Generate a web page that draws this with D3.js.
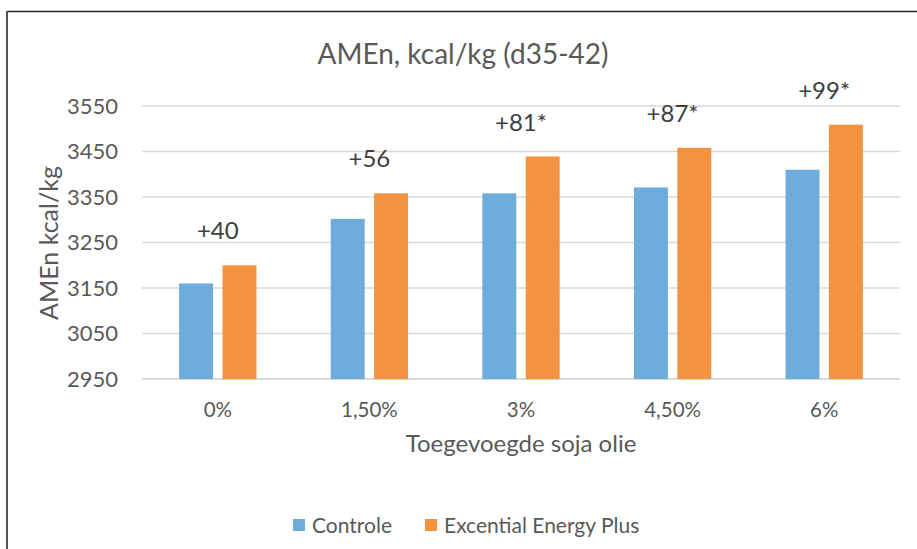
<!DOCTYPE html>
<html>
<head>
<meta charset="utf-8">
<script src="https://cdn.jsdelivr.net/npm/d3@7"></script>
<style>
  html, body { margin: 0; padding: 0; background: #fff; }
  svg { display: block; font-family: Lato, "Open Sans", sans-serif; }
</style>
</head>
<body>
<svg id="chart" width="917" height="549"></svg>
<script>
const categories = ["0%", "1,50%", "3%", "4,50%", "6%"];
const seriesNames = ["Controle", "Excential Energy Plus"];
const controle = [3160, 3302, 3358, 3371, 3410];
const excential = [3200, 3358, 3439, 3458, 3509];
const diffLabels = ["+40", "+56", "+81*", "+87*", "+99*"];
const yTicks = [2950, 3050, 3150, 3250, 3350, 3450, 3550];
const colors = ["#6eacdc", "#f3923f"];

const svg = d3.select("#chart");
const W = 917, H = 549;
const m = { left: 142, right: 17, top: 106, bottom: 170 };
const plotW = W - m.left - m.right;
const textColor = "#595959";

// frame
svg.append("line").attr("x1", 7).attr("x2", W).attr("y1", 11.5).attr("y2", 11.5)
  .attr("stroke", "#262626").attr("stroke-width", 1.5);
svg.append("line").attr("x1", 7).attr("x2", 7).attr("y1", 11).attr("y2", H)
  .attr("stroke", "#555").attr("stroke-width", 2);

const x0 = d3.scaleBand().domain(categories).range([m.left, m.left + plotW])
  .paddingInner(0.49).paddingOuter(0.245);
const x1 = d3.scaleBand().domain(seriesNames).range([0, x0.bandwidth()])
  .paddingInner(0.217).paddingOuter(0);
const y = d3.scaleLinear().domain([2950, 3550]).range([379, 106]);

// y axis labels
const yAxis = d3.axisLeft(y).tickValues(yTicks).tickSize(0).tickPadding(24).tickFormat(d3.format("d"));
const gy = svg.append("g").attr("transform", `translate(${m.left},0)`).call(yAxis);
gy.select(".domain").remove();
gy.selectAll("text").attr("fill", textColor).style("font-size", "22px")
  .style("font-family", "Lato, sans-serif");

// gridlines
svg.append("g").selectAll("line").data(yTicks).join("line")
  .attr("x1", m.left).attr("x2", m.left + plotW)
  .attr("y1", d => y(d)).attr("y2", d => y(d))
  .attr("stroke", "#d9d9d9").attr("stroke-width", d => d === 2950 ? 2 : 1.5);

// bars
const data = categories.map((c, i) => ({ cat: c, vals: [controle[i], excential[i]], label: diffLabels[i] }));
const groups = svg.append("g").selectAll("g").data(data).join("g")
  .attr("transform", d => `translate(${x0(d.cat)},0)`);
groups.selectAll("rect").data(d => d.vals.map((v, j) => ({ name: seriesNames[j], v, j })))
  .join("rect")
  .attr("x", d => x1(d.name))
  .attr("width", x1.bandwidth())
  .attr("y", d => y(d.v))
  .attr("height", d => y(2950) - y(d.v))
  .attr("fill", d => colors[d.j]);

// difference labels
svg.append("g").selectAll("text").data(data).join("text")
  .attr("x", d => x0(d.cat) + x0.bandwidth() / 2)
  .attr("y", d => y(d.vals[1]) - 26)
  .attr("text-anchor", "middle")
  .attr("fill", "#404040")
  .style("font-size", "24px")
  .text(d => d.label);

// x axis labels
const xAxis = d3.axisBottom(x0).tickSize(0).tickPadding(0);
const gx = svg.append("g").attr("transform", `translate(0,379)`).call(xAxis);
gx.select(".domain").remove();
gx.selectAll("text").attr("fill", textColor).attr("dy", null).attr("y", 38)
  .style("font-size", "20.5px").style("font-family", "Lato, sans-serif");

// title
svg.append("text").attr("x", 463).attr("y", 64).attr("text-anchor", "middle")
  .attr("fill", textColor).style("font-size", "28px").text("AMEn, kcal/kg (d35-42)");

// axis titles
svg.append("text").attr("x", 521).attr("y", 452).attr("text-anchor", "middle")
  .attr("fill", textColor).style("font-size", "24px").text("Toegevoegde soja olie");
svg.append("text").attr("transform", "translate(58,243) rotate(-90)").attr("text-anchor", "middle")
  .attr("fill", textColor).style("font-size", "25px").text("AMEn kcal/kg");

// legend
const legendX = [293, 425];
const lg = svg.append("g").selectAll("g").data(seriesNames).join("g")
  .attr("transform", (d, i) => `translate(${legendX[i]},519)`);
lg.append("rect").attr("width", 12).attr("height", 12).attr("fill", (d, i) => colors[i]);
lg.append("text").attr("x", 19).attr("y", 14).attr("fill", textColor)
  .style("font-size", "21px").text(d => d);
</script>
</body>
</html>
